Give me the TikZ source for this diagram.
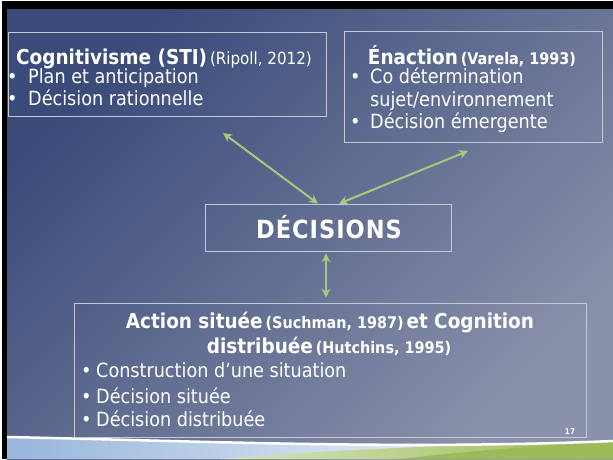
\documentclass[tikz,border=0pt]{standalone}
\usepackage{fontspec}
\setmainfont{DejaVu Sans Condensed}
\usetikzlibrary{arrows.meta}
\definecolor{slidedark}{HTML}{3A4B7A}
\definecolor{slidelight}{HTML}{8A91AA}
\definecolor{boxline}{HTML}{C5C9D6}
\definecolor{arrowgreen}{HTML}{A8C979}
\definecolor{barblue}{HTML}{98B6DC}
\definecolor{bargreen}{HTML}{9BBB59}
\newcommand{\headfont}{\fontsize{20.5}{24}\selectfont\bfseries}
\newcommand{\itemfont}{\fontsize{19.6}{23}\selectfont}
\newcommand{\reffont}{\fontsize{16}{19}\selectfont}
\tikzset{
  box/.style={draw=boxline, line width=0.8pt, inner sep=0pt},
  txt/.style={text=white, inner sep=0pt, anchor=base west, font=\itemfont},
  ttl/.style={text=white, inner sep=0pt, anchor=base},
  link/.style={arrowgreen, line width=2pt, {Stealth[length=9pt,width=9pt]}-{Stealth[length=9pt,width=9pt]}},
}
\begin{document}
\begin{tikzpicture}[x=1pt,y=-1pt]
			%%%%% START %%%%%
			\useasboundingbox (0,0) rectangle (613,459);
			\fill[white] (0,0) rectangle (613,459);
			\fill[black] (2,1) rectangle (613,459);
			\shade[left color=slidedark, right color=slidelight, shading angle=45] (7,9) rectangle (613,459);
			
			% bottom band
			\shade[left color=barblue, right color=white] (7,437) .. controls (200,441) and (400,450) .. (613,441) -- (613,459) -- (7,459) -- cycle;
			\shade[left color=bargreen!40, right color=bargreen] (220,459) .. controls (350,448) and (500,443) .. (613,442) -- (613,459) -- cycle;
			\fill[bargreen] (400,459) .. controls (480,450) and (540,445) .. (613,443) -- (613,459) -- cycle;
			\draw[white, line width=2.5pt] (7,437) .. controls (200,441) and (400,450) .. (613,441);
			
			% boxes
			\node[box, minimum width=318pt, minimum height=84pt] (cogn) at (167,74) {};
			\node[box, minimum width=258pt, minimum height=111pt] (enac) at (473,86.5) {};
			\node[box, minimum width=246pt, minimum height=47pt] (decis) at (328,227.5) {};
			\node[box, minimum width=512pt, minimum height=134pt] (situ) at (330,370) {};
			
			% cognitivisme
			\node[ttl] (cognT) at (164,64) {{\headfont Cognitivisme (STI)} {\fontsize{16.8}{19}\selectfont (Ripoll, 2012)}};
			\node[txt] (cogn1) at (7,83) {\makebox[21pt][l]{\textbullet}Plan et anticipation};
			\node[txt] (cogn2) at (7,105) {\makebox[21pt][l]{\textbullet}Décision rationnelle};
			
			% enaction
			\node[ttl] (enacT) at (472,64) {{\headfont Énaction} {\reffont\bfseries (Varela, 1993)}};
			\node[txt] (enac1) at (350,83) {\makebox[20pt][l]{\textbullet}Co détermination};
			\node[txt] (enac2) at (370,106) {sujet/environnement};
			\node[txt] (enac3) at (350,128) {\makebox[20pt][l]{\textbullet}Décision émergente};
			
			% decisions
			\node[ttl, font=\fontsize{25}{29}\selectfont\bfseries\addfontfeature{LetterSpace=4}] (decisT) at (329,238) {DÉCISIONS};
			
			% action situee
			\node[ttl] (situT1) at (330,328) {{\headfont Action située} {\reffont\bfseries (Suchman, 1987)} {\headfont et Cognition}};
			\node[ttl] (situT2) at (329,353) {{\headfont distribuée} {\reffont\bfseries (Hutchins, 1995)}};
			\node[txt] (situ1) at (81,377) {\makebox[15pt][l]{\textbullet}Construction d’une situation};
			\node[txt] (situ2) at (81,403) {\makebox[15pt][l]{\textbullet}Décision située};
			\node[txt] (situ3) at (81,426) {\makebox[15pt][l]{\textbullet}Décision distribuée};
			
			% arrows
			\coordinate (cognEnd) at (223,133);
			\coordinate (enacEnd) at (468,151);
			\draw[link] (cognEnd) -- ([xshift=-10pt]decis.north);
			\draw[link] (enacEnd) -- ([xshift=11pt]decis.north);
			\draw[link] ([xshift=-2pt,yshift=-2pt]decis.south) -- ([xshift=-4pt,yshift=5pt]situ.north);
			
			\node[ttl, font=\fontsize{8}{9}\selectfont\bfseries] (pageno) at (570,434) {17};
			%%%%% END %%%%%
\end{tikzpicture}
\end{document}
